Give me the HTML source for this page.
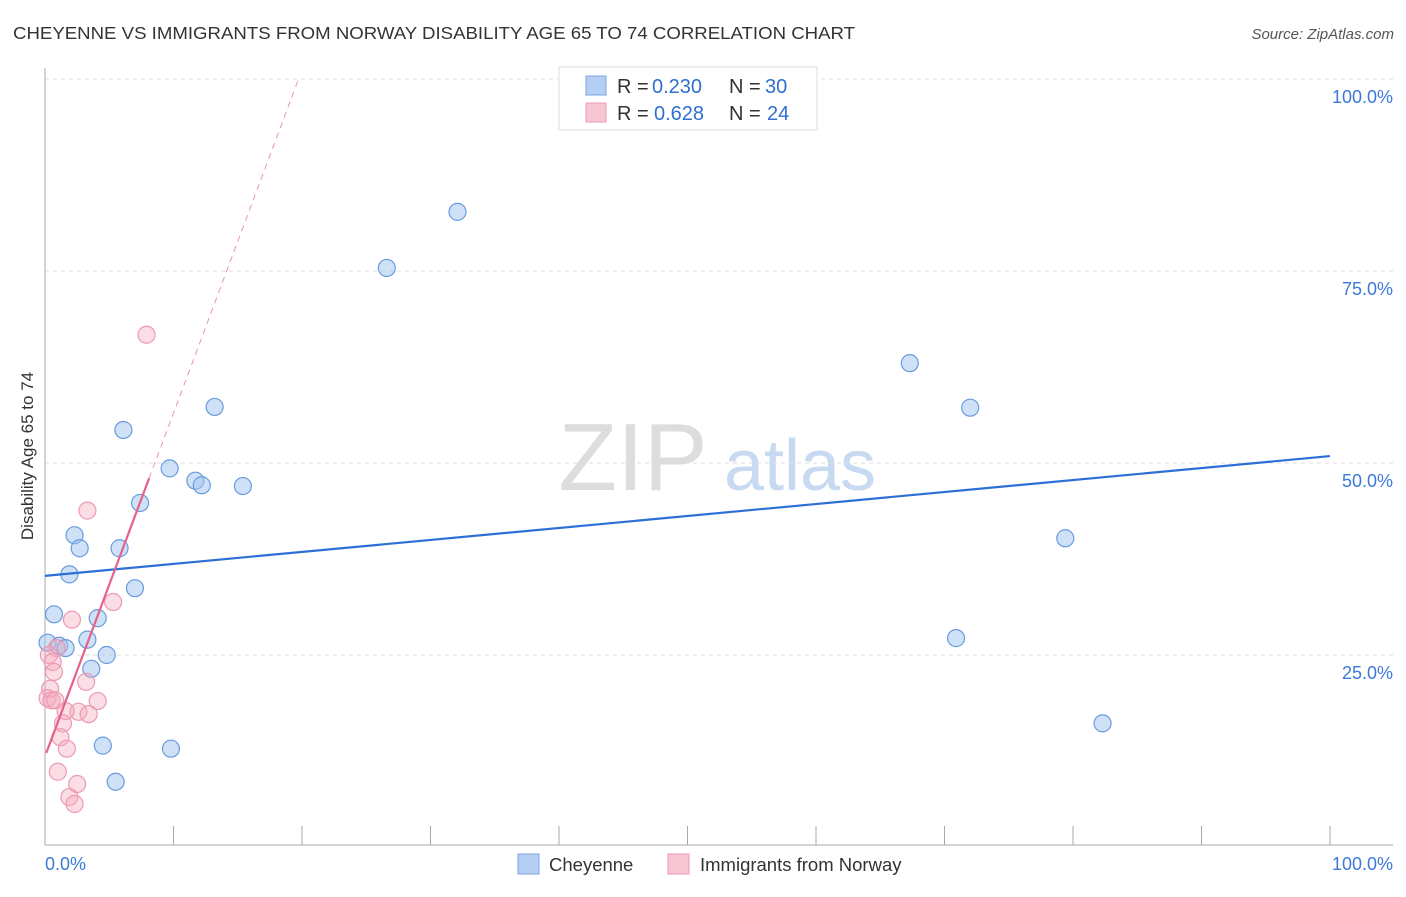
<!DOCTYPE html>
<html><head><meta charset="utf-8"><style>
body{margin:0;background:#fff;font-family:"Liberation Sans",sans-serif}
svg text{font-family:"Liberation Sans",sans-serif}
</style></head><body>
<svg id="chart" width="1406" height="892" xmlns="http://www.w3.org/2000/svg">
<text x="13" y="39" font-size="17.5" fill="#333" textLength="842" lengthAdjust="spacingAndGlyphs">CHEYENNE VS IMMIGRANTS FROM NORWAY DISABILITY AGE 65 TO 74 CORRELATION CHART</text>
<text x="1394" y="39" font-size="15" fill="#555" font-style="italic" text-anchor="end">Source: ZipAtlas.com</text>
<text x="633" y="490" font-size="96" fill="#ddd" font-family="Liberation Serif" text-anchor="middle">ZIP</text>
<text x="800" y="490" font-size="72" fill="#c8daf2" text-anchor="middle">atlas</text>
<text transform="translate(33,456) rotate(-90)" font-size="17" fill="#333" text-anchor="middle">Disability Age 65 to 74</text>
<g id="grid"></g><g id="axes"></g><g id="marks"></g>
<g>
<rect x="559" y="67" width="258" height="63" fill="#fff" stroke="#ddd"/>
<rect x="586" y="76" width="20" height="19" fill="#b4cff3" stroke="#7aa5de"/>
<rect x="586" y="103" width="20" height="19" fill="#f9c6d4" stroke="#ec9ab2"/>
<text x="617" y="93" font-size="20" fill="#333">R =</text>
<text x="652" y="93" font-size="20" fill="#2f6fd0">0.230</text>
<text x="729" y="93" font-size="20" fill="#333">N =</text>
<text x="765" y="93" font-size="20" fill="#2f6fd0">30</text>
<text x="617" y="120" font-size="20" fill="#333">R =</text>
<text x="654" y="120" font-size="20" fill="#2f6fd0">0.628</text>
<text x="729" y="120" font-size="20" fill="#333">N =</text>
<text x="767" y="120" font-size="20" fill="#2f6fd0">24</text>
</g>
<g>
<rect x="518" y="854" width="21" height="20" fill="#b4cff3" stroke="#7aa5de"/>
<text x="549" y="871" font-size="18.5" fill="#333">Cheyenne</text>
<rect x="668" y="854" width="21" height="20" fill="#f9c6d4" stroke="#ec9ab2"/>
<text x="700" y="871" font-size="18.5" fill="#333">Immigrants from Norway</text>
</g>
</svg>
<script>
const blueX=[32.1,26.6,67.3,72.0,13.2,6.1,9.7,11.7,12.2,15.4,7.4,79.4,2.3,2.7,5.8,1.9,7.0,0.7,4.1,0.2,1.1,1.6,3.3,4.8,3.6,70.9,4.5,9.8,5.5,82.3];
const blueY=[82.7,75.4,63.0,57.2,57.3,54.3,49.3,47.7,47.1,47.0,44.8,40.2,40.6,38.9,38.9,35.5,33.7,30.3,29.8,26.6,26.2,25.9,27.0,25.0,23.2,27.2,13.2,12.8,8.5,16.1];
const pinkX=[7.9,3.3,5.3,2.1,0.9,0.3,0.6,0.7,3.2,0.2,0.5,4.1,2.6,1.6,3.4,1.4,1.2,1.7,1.0,2.5,1.9,2.3,0.4,0.8];
const pinkY=[66.7,43.8,31.9,29.6,25.9,25.0,24.1,22.8,21.5,19.4,19.1,19.0,17.6,17.7,17.3,16.1,14.3,12.8,9.8,8.2,6.5,5.6,20.6,19.1];
const blueTrend=[35.3,0.156];
const pinkTrend=[11.8,4.47];
const yTicks=[25,50,75,100];
const yTickLabels=["25.0%","50.0%","75.0%","100.0%"];
const ns="http://www.w3.org/2000/svg";
const X=v=>45+v*12.85, Y=v=>847-v*7.68;
function mk(t,a,p){const e=document.createElementNS(ns,t);for(const k in a)e.setAttribute(k,a[k]);p.appendChild(e);return e;}
const grid=document.getElementById('grid'),axes=document.getElementById('axes'),marks=document.getElementById('marks');
yTicks.forEach((t,i)=>{
 const l=mk('line',{x1:45,x2:1393,y1:Y(t),y2:Y(t),stroke:'#ddd','stroke-dasharray':'4,4'},grid);
 
 
 const tx=mk('text',{x:1393,y:Y(t)+24,'font-size':18,fill:'#3b7ad8','text-anchor':'end'},axes);tx.textContent=yTickLabels[i];
 
 
});
mk('line',{x1:45,x2:45,y1:68,y2:845,stroke:'#aaa'},axes);
mk('line',{x1:45,x2:1393,y1:845,y2:845,stroke:'#aaa'},axes);
for(let i=0;i<=10;i++){const x=X(i*10);mk('line',{x1:x,x2:x,y1:826,y2:845,stroke:'#aaa'},axes);}
let t=mk('text',{x:45,y:870,'font-size':18,fill:'#3b7ad8'},axes);t.textContent='0.0%';


t=mk('text',{x:1393,y:870,'font-size':18,fill:'#3b7ad8','text-anchor':'end'},axes);t.textContent='100.0%';


blueX.forEach((x,i)=>{const c=mk('circle',{cx:X(x),cy:Y(blueY[i]),r:8.5,fill:'rgba(160,196,240,0.5)',stroke:'#6a9bdc','stroke-width':1.2},marks);
 
 });
pinkX.forEach((x,i)=>{const c=mk('circle',{cx:X(x),cy:Y(pinkY[i]),r:8.5,fill:'rgba(245,170,190,0.4)',stroke:'#ec9ab2','stroke-width':1.2},marks);
 
 });
let ln=mk('line',{x1:X(0),y1:Y(blueTrend[0]),x2:X(100),y2:Y(blueTrend[0]+100*blueTrend[1]),stroke:'#2d6fd6','stroke-width':2.2},marks);


const pe=(100-pinkTrend[0])/pinkTrend[1];
ln=mk('line',{x1:X(8.1),y1:Y(pinkTrend[0]+8.1*pinkTrend[1]),x2:X(pe),y2:Y(100),stroke:'#e895ad','stroke-width':1,'stroke-dasharray':'6,5'},marks);


ln=mk('line',{x1:X(0.1),y1:Y(pinkTrend[0]+0.1*pinkTrend[1]),x2:X(8.1),y2:Y(pinkTrend[0]+8.1*pinkTrend[1]),stroke:'#e5628a','stroke-width':2.2},marks);


</script>
</body></html>
